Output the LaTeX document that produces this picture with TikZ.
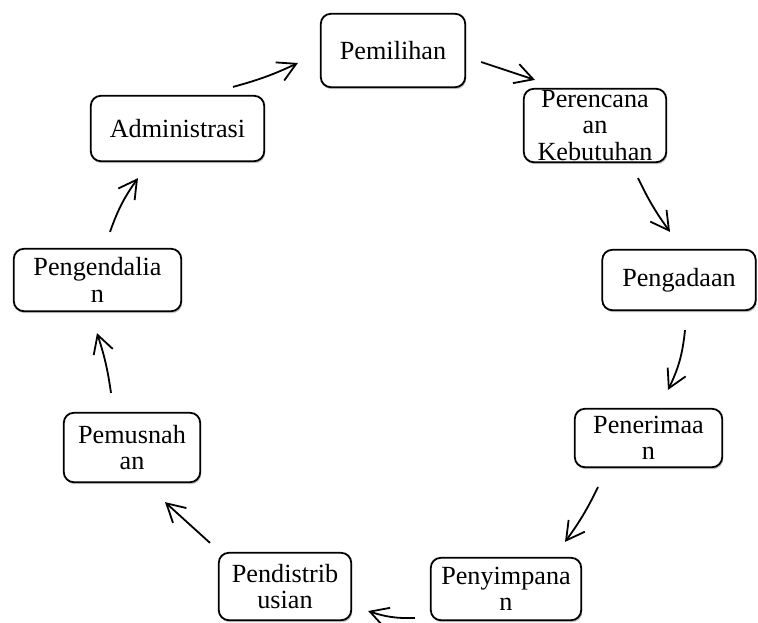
\documentclass[tikz,border=0pt]{standalone}
\usepackage{fontspec}
\setmainfont{Liberation Serif}
\usetikzlibrary{arrows.meta,calc,shadows}
\begin{document}
\begin{tikzpicture}[x=0.5pt,y=-0.5pt,
  box/.style={draw=black,line width=0.9pt,rounded corners=5pt,fill=white,align=center,inner sep=0pt,
    font=\fontsize{13.1}{13.3}\selectfont,
    drop shadow={shadow xshift=0.5pt,shadow yshift=-1pt,opacity=0.22,fill=black}},
  arr/.style={line width=0.9pt,-{Straight Barb[length=9pt,width=10pt,line width=0.9pt]}}]
\useasboundingbox (0,0) rectangle (758,622);
\node[box,minimum width=72.2pt,minimum height=36.7pt] (pem) at (393,50.5) {Pemilihan};
\node[box,minimum width=71.2pt,minimum height=36.7pt] (per) at (595,125.5) {Perencana\\an\\Kebutuhan};
\node[box,minimum width=76.7pt,minimum height=30.2pt] (pga) at (679,280) {Pengadaan};
\node[box,minimum width=73.7pt,minimum height=29.2pt] (pne) at (648.5,438) {Penerimaa\\n};
\node[box,minimum width=75.2pt,minimum height=31.2pt] (pny) at (506,589) {Penyimpana\\n};
\node[box,minimum width=66.2pt,minimum height=33.7pt] (pdb) at (285,586.5) {Pendistrib\\usian};
\node[box,minimum width=68.2pt,minimum height=34.7pt] (pms) at (132,447.5) {Pemusnah\\an};
\node[box,minimum width=83.7pt,minimum height=31.2pt] (pgd) at (97.5,280) {Pengendalia\\n};
\node[box,minimum width=86.7pt,minimum height=32.7pt] (adm) at (177.5,128.5) {Administrasi};

\draw[arr] ($(adm.north)+(55.5,-8)$) to[bend right=5] ($(pem.west)+(-22,12.5)$);
\draw[arr] ($(pem.east)+(15,11.5)$) -- ($(per.north)+(-60,-8)$);
\draw[arr] ($(per.south)+(43,15)$) to[bend right=5] ($(pga.north)+(-9,-17)$);
\draw[arr] ($(pga.south)+(6,19)$) to[bend left=10] ($(pne.north)+(19.5,-18)$);
\draw[arr] ($(pne.south)+(-50.5,19)$) to[bend left=5] ($(pny.north)+(59,-15)$);
\draw[arr] ($(pny.west)+(-15,29)$) to[bend left=10] ($(pdb.east)+(16,24.5)$);
\draw[arr] ($(pdb.north)+(-75,-9)$) -- ($(pms.south)+(33,19)$);
\draw[arr] ($(pms.north)+(-21,-19)$) to[bend right=5] ($(pgd.south)+(-0.5,21)$);
\draw[arr] ($(pgd.north)+(12.5,-16)$) to[bend left=8] ($(adm.south)+(-39.5,16)$);
\end{tikzpicture}
\end{document}
